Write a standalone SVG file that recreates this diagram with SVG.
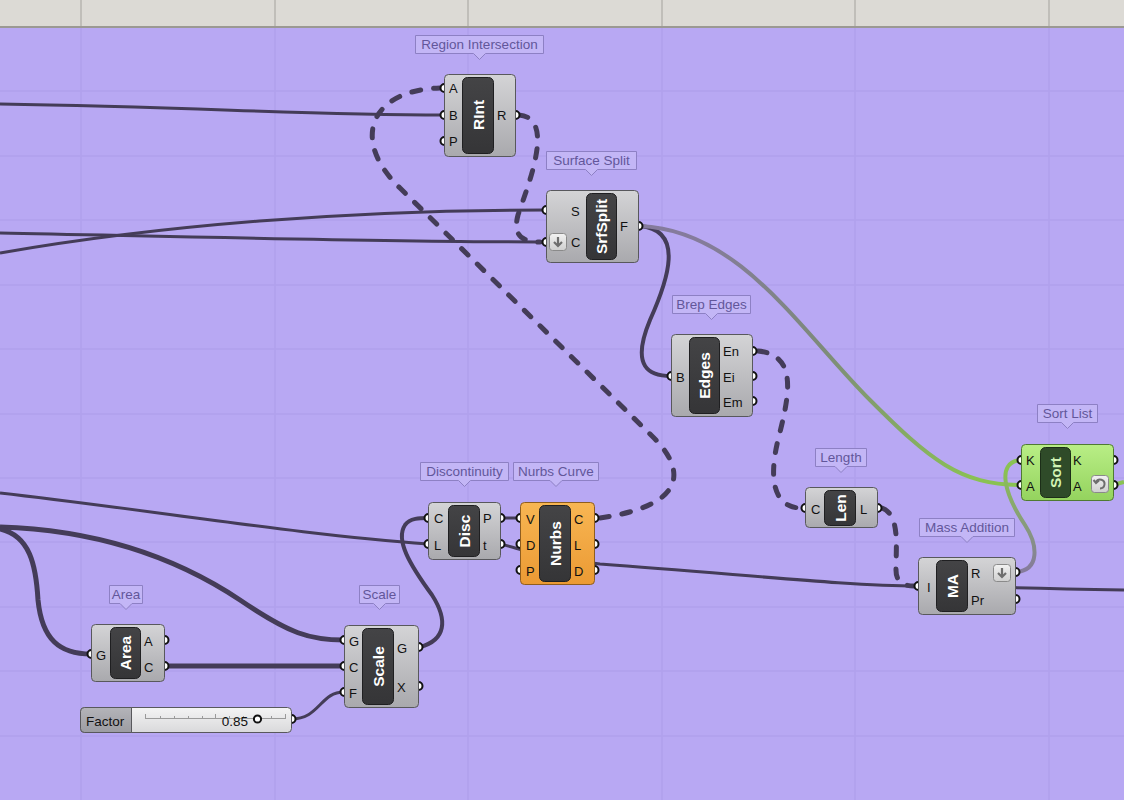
<svg xmlns="http://www.w3.org/2000/svg" width="1124" height="800" viewBox="0 0 1124 800">
<defs>
<linearGradient id="gBody" x1="0" y1="0" x2="0" y2="1"><stop offset="0" stop-color="#d4d4d6"/><stop offset="1" stop-color="#a9a9ad"/></linearGradient>
<linearGradient id="gGreen" x1="0" y1="0" x2="0" y2="1"><stop offset="0" stop-color="#b9ee86"/><stop offset="1" stop-color="#94d35e"/></linearGradient>
<linearGradient id="gOrange" x1="0" y1="0" x2="0" y2="1"><stop offset="0" stop-color="#f8b653"/><stop offset="1" stop-color="#eb9a34"/></linearGradient>
<linearGradient id="gCap" x1="0" y1="0" x2="0" y2="1"><stop offset="0" stop-color="#444446"/><stop offset="1" stop-color="#353537"/></linearGradient>
<linearGradient id="gSlider" x1="0" y1="0" x2="0" y2="1"><stop offset="0" stop-color="#f4f4f4"/><stop offset="1" stop-color="#d9d9db"/></linearGradient>
<linearGradient id="gFactor" x1="0" y1="0" x2="0" y2="1"><stop offset="0" stop-color="#b4b4b9"/><stop offset="1" stop-color="#9c9ca2"/></linearGradient>
<linearGradient id="gWireF" gradientUnits="userSpaceOnUse" x1="700" y1="230" x2="980" y2="480"><stop offset="0" stop-color="#857b9c"/><stop offset="0.45" stop-color="#7d8a7a"/><stop offset="1" stop-color="#8ac253"/></linearGradient>
<linearGradient id="gWireR" gradientUnits="userSpaceOnUse" x1="0" y1="570" x2="0" y2="470"><stop offset="0" stop-color="#857b9c"/><stop offset="1" stop-color="#8ac253"/></linearGradient>
<linearGradient id="gIcon" x1="0" y1="0" x2="0" y2="1"><stop offset="0" stop-color="#f2f2f2"/><stop offset="1" stop-color="#cfcfcf"/></linearGradient>
</defs>
<style>
.wire{fill:none;stroke:#443c58;stroke-width:3}
.thick{stroke-width:5}
.dash{fill:none;stroke:#443c58;stroke-width:5;stroke-dasharray:9 13;stroke-linecap:round}
.body{fill:url(#gBody);stroke:#58585c;stroke-width:1}
.cap{fill:url(#gCap);stroke:#1f1f21;stroke-width:1}
.name{font-family:"Liberation Sans",Arial,sans-serif;font-weight:bold;font-size:15.5px;fill:#ffffff;text-anchor:middle;dominant-baseline:central}
.pl{font-family:"Liberation Sans",Arial,sans-serif;font-size:13px;fill:#111;dominant-baseline:central}
.port{fill:#ffffff;stroke:#111;stroke-width:2}
.tip{fill:#c3b6f6;stroke:#8d80c4;stroke-width:1}
.tipt{font-family:"Liberation Sans",Arial,sans-serif;font-size:13.5px;fill:#62569a;text-anchor:middle;dominant-baseline:central}
.grid{stroke:#b1a1ed;stroke-width:1.5}
.icon{fill:url(#gIcon);stroke:#8a8a8a;stroke-width:1}
</style>
<rect x="0" y="0" width="1124" height="800" fill="#b8a8f3"/>
<g id="grid">
<line class="grid" x1="81" y1="27" x2="81" y2="800"/><line class="grid" x1="275" y1="27" x2="275" y2="800"/><line class="grid" x1="468" y1="27" x2="468" y2="800"/><line class="grid" x1="662" y1="27" x2="662" y2="800"/><line class="grid" x1="855" y1="27" x2="855" y2="800"/><line class="grid" x1="1049" y1="27" x2="1049" y2="800"/>
<line class="grid" x1="0" y1="91" x2="1124" y2="91"/><line class="grid" x1="0" y1="156" x2="1124" y2="156"/><line class="grid" x1="0" y1="220" x2="1124" y2="220"/><line class="grid" x1="0" y1="285" x2="1124" y2="285"/><line class="grid" x1="0" y1="349" x2="1124" y2="349"/><line class="grid" x1="0" y1="414" x2="1124" y2="414"/><line class="grid" x1="0" y1="478" x2="1124" y2="478"/><line class="grid" x1="0" y1="542" x2="1124" y2="542"/><line class="grid" x1="0" y1="607" x2="1124" y2="607"/><line class="grid" x1="0" y1="671" x2="1124" y2="671"/><line class="grid" x1="0" y1="736" x2="1124" y2="736"/>
</g>
<g id="topbar">
<rect x="0" y="0" width="1124" height="27" fill="#dcdad5"/>
<line x1="0" y1="27" x2="1124" y2="27" stroke="#9b9993" stroke-width="2"/>
<g stroke="#b7b5af" stroke-width="1.5"><line x1="81" y1="0" x2="81" y2="26"/><line x1="275" y1="0" x2="275" y2="26"/><line x1="468" y1="0" x2="468" y2="26"/><line x1="662" y1="0" x2="662" y2="26"/><line x1="855" y1="0" x2="855" y2="26"/><line x1="1049" y1="0" x2="1049" y2="26"/></g>
</g>
<g id="connectors">
<path class="wire" d="M0,104 C200,107 300,115 444,115"/>
<path class="wire" d="M0,233 C200,237 400,242 546,242"/>
<path class="wire" d="M0,253 C160,225 350,210 546,210"/>
<path class="dash" d="M519,115 C556,118 528,185 518,215 C512,238 525,242 540,242"/>
<path class="dash" d="M600,518 C690,505 685,468 652,436 L400,188 C350,140 370,90 440,88"/>
<path class="dash" d="M758,351 C800,355 788,400 778,440 C766,490 780,508 801,508"/>
<path class="dash" d="M882,508 C900,515 896,545 896,570 C896,584 906,586 914,586"/>
<path class="wire" d="M640,226 C685,230 668,280 650,320 C630,368 650,376 671,376" style="stroke-width:4"/>
<path class="wire" d="M640,226 C740,230 800,330 870,400 C930,460 960,485 1021,485" style="stroke:url(#gWireF);stroke-width:4"/>
<path class="wire" d="M1016,572 C1040,570 1038,545 1025,525 C1005,495 995,462 1021,460" style="stroke:url(#gWireR);stroke-width:4"/>
<path class="wire" d="M1113,485 L1124,482" style="stroke:#8ac253;stroke-width:4"/>
<path class="wire" d="M0,493 C150,510 300,535 428,544"/>
<path class="wire" d="M500,518 L520,518"/>
<path class="wire" d="M500,544 C520,548 530,556 600,564 C750,575 850,586 918,586"/>
<path class="wire" d="M960,586 C1020,588 1070,589 1124,590"/>
<path class="wire thick" d="M0,527 C100,530 180,560 240,600 C290,634 310,640 344,640"/>
<path class="wire thick" d="M0,529 C30,536 36,565 38,600 C42,640 60,654 91,654"/>
<path class="wire thick" d="M164,666 L344,666"/>
<path class="wire" d="M420,647 C446,640 448,620 432,595 C410,565 395,540 405,525 C410,518 420,518 428,518" style="stroke-width:4"/>
<path class="wire" d="M291,719 C320,719 320,692 344,692"/>
</g>
<g id="tooltips">
<path class="tip" d="M415.5,35.5 h128 v18 h-58 l-6,6 l-6,-6 h-58 Z"/><text class="tipt" x="479.5" y="44.5">Region Intersection</text>
<path class="tip" d="M546.5,151.5 h90 v18 h-39 l-6,6 l-6,-6 h-39 Z"/><text class="tipt" x="591.5" y="160.5">Surface Split</text>
<path class="tip" d="M672.5,295.5 h78 v18 h-33 l-6,6 l-6,-6 h-33 Z"/><text class="tipt" x="711.5" y="304.5">Brep Edges</text>
<path class="tip" d="M1037.5,404.5 h60 v18 h-24 l-6,6 l-6,-6 h-24 Z"/><text class="tipt" x="1067.5" y="413.5">Sort List</text>
<path class="tip" d="M815.5,448.5 h51 v18 h-19.5 l-6,6 l-6,-6 h-19.5 Z"/><text class="tipt" x="841" y="457.5">Length</text>
<path class="tip" d="M919.5,518.5 h95 v18 h-41.5 l-6,6 l-6,-6 h-41.5 Z"/><text class="tipt" x="967" y="527.5">Mass Addition</text>
<path class="tip" d="M420.5,462.5 h88 v18 h-38 l-6,6 l-6,-6 h-38 Z"/><text class="tipt" x="464.5" y="471.5">Discontinuity</text>
<path class="tip" d="M513.5,462.5 h85 v18 h-36.5 l-6,6 l-6,-6 h-36.5 Z"/><text class="tipt" x="556" y="471.5">Nurbs Curve</text>
<path class="tip" d="M109.5,585.5 h33 v18 h-10.5 l-6,6 l-6,-6 h-10.5 Z"/><text class="tipt" x="126" y="594.5">Area</text>
<path class="tip" d="M359.5,585.5 h40 v18 h-14 l-6,6 l-6,-6 h-14 Z"/><text class="tipt" x="379.5" y="594.5">Scale</text>
</g>
<g id="node-rint">
<circle class="port" cx="444.5" cy="88" r="4"/><circle class="port" cx="444.5" cy="115" r="4"/><circle class="port" cx="444.5" cy="141" r="4"/><circle class="port" cx="515.5" cy="115" r="4"/>
<rect class="body" x="444.5" y="74.5" width="71" height="82" rx="4"/>
<rect class="cap" x="462.5" y="77.5" width="31" height="76" rx="5"/>
<text class="name" transform="translate(478,115) rotate(-90)">RInt</text>
<text class="pl" x="449" y="88">A</text><text class="pl" x="449" y="115">B</text><text class="pl" x="449" y="141">P</text><text class="pl" x="497" y="115">R</text>
</g>
<g id="node-srfsplit">
<circle class="port" cx="546.5" cy="210" r="4"/><circle class="port" cx="546.5" cy="242" r="4"/><circle class="port" cx="638.5" cy="226" r="4"/>
<rect class="body" x="546.5" y="190.5" width="92" height="72" rx="4"/>
<rect class="cap" x="586.5" y="193.5" width="30" height="66" rx="5"/>
<text class="name" transform="translate(601.5,226.5) rotate(-90)">SrfSplit</text>
<text class="pl" x="571" y="211">S</text><text class="pl" x="571" y="242">C</text><text class="pl" x="620" y="226">F</text>
<rect class="icon" x="549.5" y="233.5" width="17" height="17" rx="3"/>
<path d="M558,237 v9 M554,242 l4,4 l4,-4" fill="none" stroke="#6e6e6e" stroke-width="2.2"/>
</g>
<g id="node-edges">
<circle class="port" cx="671.5" cy="376" r="4"/><circle class="port" cx="752.5" cy="351" r="4"/><circle class="port" cx="752.5" cy="376" r="4"/><circle class="port" cx="752.5" cy="401" r="4"/>
<rect class="body" x="671.5" y="334.5" width="81" height="82" rx="4"/>
<rect class="cap" x="689.5" y="337.5" width="30" height="76" rx="5"/>
<text class="name" transform="translate(704.5,375.5) rotate(-90)">Edges</text>
<text class="pl" x="676" y="377">B</text><text class="pl" x="723" y="351">En</text><text class="pl" x="723" y="377">Ei</text><text class="pl" x="723" y="402">Em</text>
</g>
<g id="node-sort">
<circle class="port" cx="1021.5" cy="460" r="4"/><circle class="port" cx="1021.5" cy="485" r="4"/><circle class="port" cx="1113.5" cy="460" r="4"/><circle class="port" cx="1113.5" cy="485" r="4"/>
<rect x="1021.5" y="444.5" width="92" height="56" rx="4" fill="url(#gGreen)" stroke="#4f7a33" stroke-width="1"/>
<rect x="1040.5" y="447.5" width="30" height="50" rx="5" fill="#2f4b29" stroke="#1c2e18" stroke-width="1"/>
<text class="name" transform="translate(1055.5,472.5) rotate(-90)" style="fill:#d2f3b4">Sort</text>
<text class="pl" x="1026" y="460">K</text><text class="pl" x="1026" y="486">A</text><text class="pl" x="1073" y="460">K</text><text class="pl" x="1073" y="486">A</text>
<rect class="icon" x="1091.5" y="475.5" width="17" height="17" rx="3"/>
<path d="M1096,482 a4.5,4.5 0 1 1 4,6.5 M1093.5,480 l2.5,3 l3,-2.5" fill="none" stroke="#6e6e6e" stroke-width="2"/>
</g>
<g id="node-len">
<circle class="port" cx="805.5" cy="508" r="4"/><circle class="port" cx="877.5" cy="508" r="4"/>
<rect class="body" x="805.5" y="487.5" width="72" height="40" rx="4"/>
<rect class="cap" x="824.5" y="490.5" width="31" height="35" rx="5"/>
<text class="name" transform="translate(840,508) rotate(-90)">Len</text>
<text class="pl" x="811" y="509">C</text><text class="pl" x="860" y="509">L</text>
</g>
<g id="node-ma">
<circle class="port" cx="918.5" cy="586" r="4"/><circle class="port" cx="1015.5" cy="572" r="4"/><circle class="port" cx="1015.5" cy="599" r="4"/>
<rect class="body" x="918.5" y="557.5" width="97" height="57" rx="4"/>
<rect class="cap" x="936.5" y="560.5" width="31" height="51" rx="5"/>
<text class="name" transform="translate(952,586) rotate(-90)">MA</text>
<text class="pl" x="927" y="587">I</text><text class="pl" x="971" y="573">R</text><text class="pl" x="971" y="600">Pr</text>
<rect class="icon" x="993.5" y="564.5" width="17" height="17" rx="3"/>
<path d="M1002,568 v9 M998,573 l4,4 l4,-4" fill="none" stroke="#6e6e6e" stroke-width="2.2"/>
</g>
<g id="node-disc">
<circle class="port" cx="428.5" cy="518" r="4"/><circle class="port" cx="428.5" cy="544" r="4"/><circle class="port" cx="500.5" cy="518" r="4"/><circle class="port" cx="500.5" cy="544" r="4"/>
<rect class="body" x="428.5" y="502.5" width="72" height="57" rx="4"/>
<rect class="cap" x="448.5" y="505.5" width="31" height="51" rx="5"/>
<text class="name" transform="translate(464,531) rotate(-90)">Disc</text>
<text class="pl" x="434" y="518">C</text><text class="pl" x="434" y="545">L</text><text class="pl" x="483" y="518">P</text><text class="pl" x="483" y="545">t</text>
</g>
<g id="node-nurbs">
<circle class="port" cx="520.5" cy="518" r="4"/><circle class="port" cx="520.5" cy="544" r="4"/><circle class="port" cx="520.5" cy="570" r="4"/>
<circle class="port" cx="594.5" cy="518" r="4"/><circle class="port" cx="594.5" cy="544" r="4"/><circle class="port" cx="594.5" cy="570" r="4"/>
<rect x="520.5" y="502.5" width="74" height="82" rx="4" fill="url(#gOrange)" stroke="#8f5d1f" stroke-width="1"/>
<rect class="cap" x="539.5" y="505.5" width="31" height="76" rx="5"/>
<text class="name" transform="translate(555,543.5) rotate(-90)">Nurbs</text>
<text class="pl" x="526" y="519">V</text><text class="pl" x="526" y="545">D</text><text class="pl" x="526" y="571">P</text>
<text class="pl" x="574" y="519">C</text><text class="pl" x="574" y="545">L</text><text class="pl" x="574" y="571">D</text>
</g>
<g id="node-area">
<circle class="port" cx="91.5" cy="654" r="4"/><circle class="port" cx="164.5" cy="640" r="4"/><circle class="port" cx="164.5" cy="666" r="4"/>
<rect class="body" x="91.5" y="624.5" width="73" height="57" rx="4"/>
<rect class="cap" x="110.5" y="627.5" width="30" height="51" rx="5"/>
<text class="name" transform="translate(125.5,653) rotate(-90)">Area</text>
<text class="pl" x="96" y="655">G</text><text class="pl" x="144" y="641">A</text><text class="pl" x="144" y="667">C</text>
</g>
<g id="node-scale">
<circle class="port" cx="344.5" cy="640" r="4"/><circle class="port" cx="344.5" cy="666" r="4"/><circle class="port" cx="344.5" cy="692" r="4"/>
<circle class="port" cx="418.5" cy="647" r="4"/><circle class="port" cx="418.5" cy="686" r="4"/>
<rect class="body" x="344.5" y="625.5" width="74" height="82" rx="4"/>
<rect class="cap" x="362.5" y="628.5" width="31" height="76" rx="5"/>
<text class="name" transform="translate(378,666.5) rotate(-90)">Scale</text>
<text class="pl" x="349" y="641">G</text><text class="pl" x="349" y="667">C</text><text class="pl" x="349" y="693">F</text>
<text class="pl" x="397" y="648">G</text><text class="pl" x="397" y="687">X</text>
</g>
<g id="node-factor">
<circle class="port" cx="291.5" cy="719" r="4"/>
<rect x="80.5" y="707.5" width="211" height="25" rx="4" fill="url(#gSlider)" stroke="#58585c" stroke-width="1"/>
<path d="M84.5,707.5 H131.5 V732.5 H84.5 a4,4 0 0 1 -4,-4 V711.5 a4,4 0 0 1 4,-4 Z" fill="url(#gFactor)" stroke="#58585c" stroke-width="1"/>
<text class="pl" x="86" y="721" style="font-size:13.5px">Factor</text>
<g stroke="#9a9a9a" stroke-width="1"><line x1="145" y1="718.5" x2="285" y2="718.5"/>
<line x1="145.5" y1="714" x2="145.5" y2="719"/><line x1="160.5" y1="716" x2="160.5" y2="719"/><line x1="174.5" y1="716" x2="174.5" y2="719"/><line x1="188.5" y1="716" x2="188.5" y2="719"/><line x1="202.5" y1="716" x2="202.5" y2="719"/><line x1="215.5" y1="714" x2="215.5" y2="719"/><line x1="229.5" y1="716" x2="229.5" y2="719"/><line x1="243.5" y1="716" x2="243.5" y2="719"/><line x1="257.5" y1="716" x2="257.5" y2="719"/><line x1="271.5" y1="716" x2="271.5" y2="719"/><line x1="285.5" y1="714" x2="285.5" y2="719"/></g>
<text class="pl" x="248" y="721.5" style="font-size:13.5px;text-anchor:end">0.85</text>
<circle cx="257.5" cy="719" r="3.6" fill="#fff" stroke="#111" stroke-width="2"/>
</g>
</svg>
